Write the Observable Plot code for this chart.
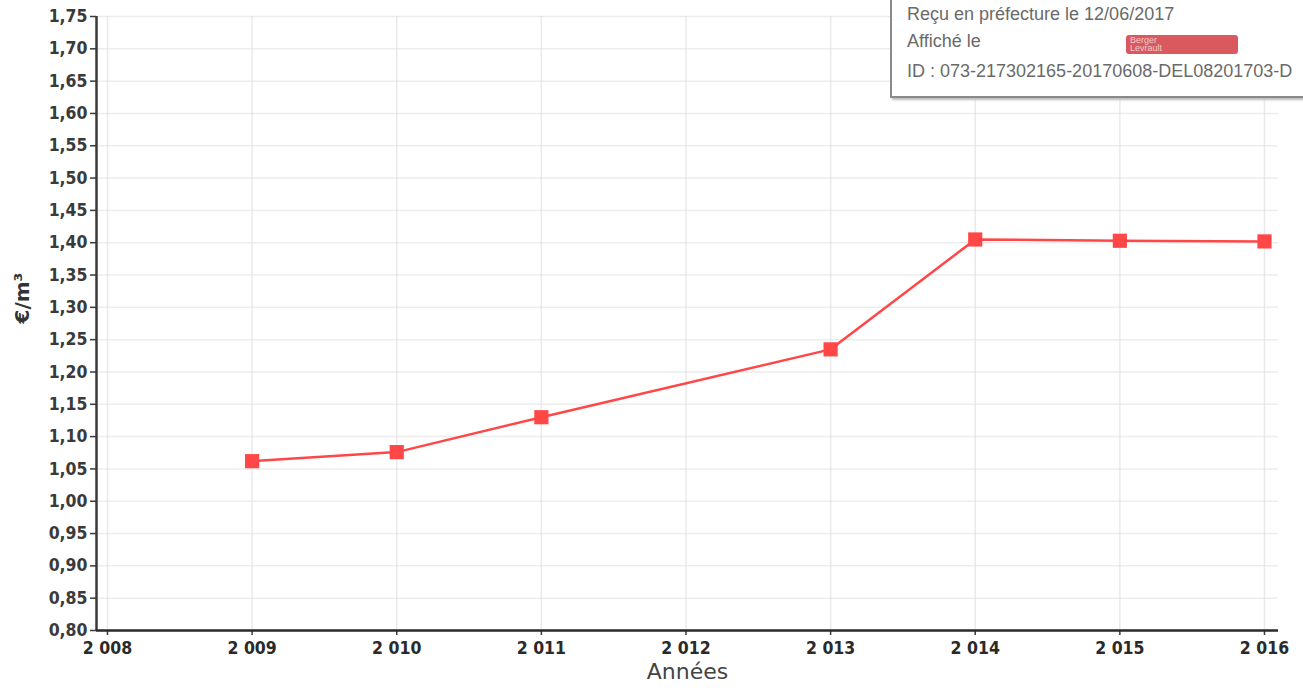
<!DOCTYPE html>
<html>
<head>
<meta charset="utf-8">
<script src="https://cdn.jsdelivr.net/npm/d3@7"></script>
<script src="https://cdn.jsdelivr.net/npm/@observablehq/plot@0.6"></script>
<style>
  html, body { margin: 0; padding: 0; background: #fff; }
  #wrap { position: relative; width: 1303px; height: 692px; overflow: hidden; }
  #stamp {
    position: absolute; left: 890px; top: -4px; width: 440px; height: 98px;
    border: 2px solid #8a8a8a; box-shadow: 2px 2px 2px #bbb; background: rgba(255,255,255,0.92);
    font-family: "Liberation Sans", Arial, sans-serif; font-size: 18px; color: #6a6a6a;
  }
  #stamp .ln { position: absolute; left: 15px; white-space: nowrap; }
  #stamp #logo {
    position: absolute; left: 234px; top: 37px; width: 112px; height: 19px;
    background: #d9595f; border-radius: 3px; color: #f3c9cb; font-size: 9px; line-height: 8px;
    padding-left: 4px; box-sizing: border-box; padding-top: 1px; white-space: nowrap;
  }
</style>
</head>
<body>
<div id="wrap"></div>
<script>
const years = [2009, 2010, 2011, 2013, 2014, 2015, 2016];
const prices = [1.062, 1.076, 1.130, 1.235, 1.405, 1.403, 1.402];
const xTicks = [2008, 2009, 2010, 2011, 2012, 2013, 2014, 2015, 2016];
const yTicks = [0.80, 0.85, 0.90, 0.95, 1.00, 1.05, 1.10, 1.15, 1.20, 1.25, 1.30, 1.35, 1.40, 1.45, 1.50, 1.55, 1.60, 1.65, 1.70, 1.75];
const xTitle = "Années";
const yTitle = "€/m³";

const data = years.map((y, i) => ({year: y, price: prices[i]}));
const fr = d3.formatLocale({decimal: ",", thousands: " ", grouping: [3], currency: ["", " €"]});
const fmtYear = fr.format(",d");
const fmtPrice = d => fr.format(".2f")(d);

const xDomain = [2007.924, 2016.097];
const yDomain = [0.80, 1.75];

const chart = Plot.plot({
  width: 1303,
  height: 692,
  marginLeft: 96,
  marginRight: 25,
  marginTop: 16,
  marginBottom: 62,
  style: {fontFamily: "'DejaVu Sans Condensed', 'DejaVu Sans', sans-serif", background: "transparent"},
  x: {domain: xDomain},
  y: {domain: yDomain},
  marks: [
    Plot.gridX(xTicks, {stroke: "#dcdcdc", strokeOpacity: 0.6, strokeWidth: 1.5}),
    Plot.gridY(yTicks, {stroke: "#dcdcdc", strokeOpacity: 0.5, strokeWidth: 1.5}),
    Plot.axisY({ticks: yTicks, tickFormat: fmtPrice, tickSize: 6, tickPadding: 3, fontSize: 17.5, fontWeight: "bold", fill: "#3a3a3a", stroke: "#3a3a3a", strokeWidth: 1.5, label: null}),
    Plot.axisX({ticks: xTicks, tickFormat: fmtYear, tickSize: 5, tickPadding: 6, fontSize: 17.5, fontWeight: "bold", fill: "#2a2a2a", stroke: "#3a3a3a", strokeWidth: 1.5, label: null}),
    Plot.ruleX([xDomain[0]], {stroke: "#3a3a3a", strokeWidth: 2.5}),
    Plot.ruleY([yDomain[0]], {stroke: "#2a2a2a", strokeWidth: 2.5}),
    Plot.text([yTitle], {frameAnchor: "left", dx: -74, rotate: -90, fontSize: 20, fontWeight: "bold", fill: "#333", fontFamily: "'DejaVu Sans', sans-serif"}),
    Plot.text([xTitle], {frameAnchor: "bottom", dy: 48, fontSize: 22, fill: "#444", fontFamily: "'DejaVu Sans', sans-serif"}),
    Plot.line(data, {x: "year", y: "price", stroke: "#ff4747", strokeWidth: 2.5}),
    Plot.dot(data, {x: "year", y: "price", symbol: "square", r: 8, fill: "#ff4747", stroke: "none"})
  ]
});

const wrap = document.getElementById("wrap");
wrap.appendChild(chart);

const stamp = document.createElement("div");
stamp.id = "stamp";
stamp.innerHTML = '<div class="ln" style="top:6px">Reçu en préfecture le 12/06/2017</div>' +
  '<div class="ln" style="top:33px">Affiché le</div>' +
  '<div id="logo">Berger<br>Levrault</div>' +
  '<div class="ln" style="top:63px">ID : 073-217302165-20170608-DEL08201703-D</div>';
wrap.appendChild(stamp);
</script>
</body>
</html>
